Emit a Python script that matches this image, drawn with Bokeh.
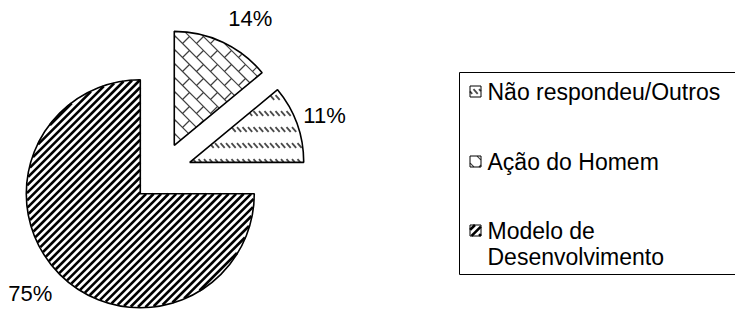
import math
from bokeh.plotting import figure
from bokeh.models import ColumnDataSource, Range1d
from bokeh.core.properties import value
from bokeh.embed import file_html
from bokeh.resources import INLINE

# ---- data ----
categories = ["Ação do Homem", "Não respondeu/Outros", "Modelo de Desenvolvimento"]
values = [14, 11, 75]
pct_labels = ["14%", "11%", "75%"]
legend_order = ["Não respondeu/Outros", "Ação do Homem", "Modelo de Desenvolvimento"]
legend_lines = {"Não respondeu/Outros": ["Não respondeu/Outros"],
                "Ação do Homem": ["Ação do Homem"],
                "Modelo de Desenvolvimento": ["Modelo de", "Desenvolvimento"]}

# ---- styles ----
W, H = 735, 309
CX, CY = 161, 137      # pie centre (pixel units)
R = 114
EXPLODE = 30
LABEL_R = 147
FONT = "Liberation Sans"
pattern = {"Ação do Homem": "brick", "Não respondeu/Outros": "dash", "Modelo de Desenvolvimento": "stripe"}
pat_style = {"stripe": dict(line_color="black", line_width=2.6),
             "brick": dict(line_color="#404040", line_width=1.2),
             "dash": dict(line_color="#4a4a4a", line_width=1.8)}
label_nudge = {"14%": (13.5, -6), "11%": (-3.5, -3), "75%": (-6, 4.5)}


# ---- hatch helpers (fill patterns computed from each shape's geometry) ----
def sector_inside(cx, cy, r, a_lo, a_hi):
    def f(x, y):
        dx, dy = x - cx, y - cy
        if dx * dx + dy * dy > r * r:
            return False
        ang = math.degrees(math.atan2(dy, dx))
        while ang < a_lo:
            ang += 360
        while ang >= a_lo + 360:
            ang -= 360
        return ang <= a_hi
    return f


def square_inside(cx, cy, h):
    return lambda x, y: abs(x - cx) <= h and abs(y - cy) <= h


def clip(x0, y0, x1, y1, inside, step=0.25):
    L = math.hypot(x1 - x0, y1 - y0)
    n = max(2, int(L / step))
    out, start, prev = [], None, None
    for i in range(n + 1):
        t = i / n
        x, y = x0 + (x1 - x0) * t, y0 + (y1 - y0) * t
        if inside(x, y):
            if start is None:
                start = (x, y)
            prev = (x, y)
        elif start is not None:
            out.append((start, prev))
            start = None
    if start is not None:
        out.append((start, prev))
    return out


def hatch_segments(kind, inside, bbox, dash_y0=4):
    xmin, xmax, ymin, ymax = bbox
    segs = []
    if kind == "stripe":
        S = 7.5
        c = math.floor((ymin - xmax) / S) * S
        while c <= ymax - xmin + S:
            segs += clip(xmin - 2, xmin - 2 + c, xmax + 2, xmax + 2 + c, inside)
            c += S
    elif kind == "brick":
        S = 14
        c = math.floor((xmin + ymin) / S) * S
        while c <= xmax + ymax + S:
            segs += clip(xmin - 2, c - xmin + 2, xmax + 2, c - xmax - 2, inside)
            xs = math.floor(xmin / S) * S + S / 2
            while xs <= xmax + S:
                ys = c - xs
                segs += clip(xs, ys, xs - S / 2, ys - S / 2, inside)
                xs += S
            c += S
    elif kind == "dash":
        SX, SY = 5.5, 16
        y = math.floor(ymin / SY) * SY + dash_y0
        while y <= ymax + SY:
            x = math.floor(xmin / SX) * SX
            while x <= xmax + SX:
                for s in clip(x, y + 2.4, x + 4.2, y - 2.4, inside):
                    if math.hypot(s[1][0] - s[0][0], s[1][1] - s[0][1]) > 2.5:
                        segs.append(s)
                x += SX
            y += SY
    return segs


def draw_segs(p, segs, style):
    if not segs:
        return
    src = ColumnDataSource(dict(x0=[s[0][0] for s in segs], y0=[s[0][1] for s in segs],
                                x1=[s[1][0] for s in segs], y1=[s[1][1] for s in segs]))
    p.segment(x0="x0", y0="y0", x1="x1", y1="y1", source=src, line_cap="butt", **style)


p = figure(width=W, height=H, output_backend="svg", toolbar_location=None,
           x_range=Range1d(0, W), y_range=Range1d(0, H), min_border=0,
           outline_line_color=None)
p.axis.visible = False
p.grid.visible = False
p.background_fill_color = "white"

total = sum(values)
cum = 0.0
for cat, v, lab in zip(categories, values, pct_labels):
    a0 = 90 - cum / total * 360
    cum += v
    a1 = 90 - cum / total * 360
    mid = math.radians((a0 + a1) / 2)
    cx = CX + EXPLODE * math.cos(mid)
    cy = CY + EXPLODE * math.sin(mid)
    src = ColumnDataSource(dict(x=[cx], y=[cy]))
    p.wedge(x="x", y="y", radius=R, start_angle=math.radians(a1), end_angle=math.radians(a0),
            direction="anticlock", source=src, fill_color="white", line_color=None)
    kind = pattern[cat]
    segs = hatch_segments(kind, sector_inside(cx, cy, R - 0.5, a1, a0),
                          (cx - R, cx + R, cy - R, cy + R))
    draw_segs(p, segs, pat_style[kind])
    p.wedge(x="x", y="y", radius=R, start_angle=math.radians(a1), end_angle=math.radians(a0),
            direction="anticlock", source=src, fill_color=None,
            line_color="black", line_width=1.6)
    dx, dy = label_nudge[lab]
    lx = cx + LABEL_R * math.cos(mid) + dx
    ly = cy + LABEL_R * math.sin(mid) + dy
    p.text(x=[lx], y=[ly], text=[lab], text_align="center", text_baseline="middle",
           text_font=value(FONT), text_font_size="22px", text_color="black")

# legend box
p.quad(left=[459], right=[780], bottom=[35], top=[237], fill_color=None,
       line_color="black", line_width=1)
row_y = [218, 148, 79]
ICON_X, ICON_H = 475, 5.5
for cat, ry in zip(legend_order, row_y):
    p.rect(x=[ICON_X], y=[ry], width=2 * ICON_H, height=2 * ICON_H, fill_color="white", line_color=None)
    kind = pattern[cat]
    segs = hatch_segments(kind, square_inside(ICON_X, ry, ICON_H),
                          (ICON_X - ICON_H, ICON_X + ICON_H, ry - ICON_H, ry + ICON_H),
                          dash_y0=ry % 16)
    draw_segs(p, segs, pat_style[kind])
    p.rect(x=[ICON_X], y=[ry], width=2 * ICON_H, height=2 * ICON_H, fill_color=None,
           line_color="black", line_width=1)
    for k, line in enumerate(legend_lines[cat]):
        p.text(x=[487], y=[ry - k * 26], text=[line], text_align="left", text_baseline="middle",
               text_font=value(FONT), text_font_size="23px", text_color="black")

open("out.html", "w").write(file_html(p, INLINE))
